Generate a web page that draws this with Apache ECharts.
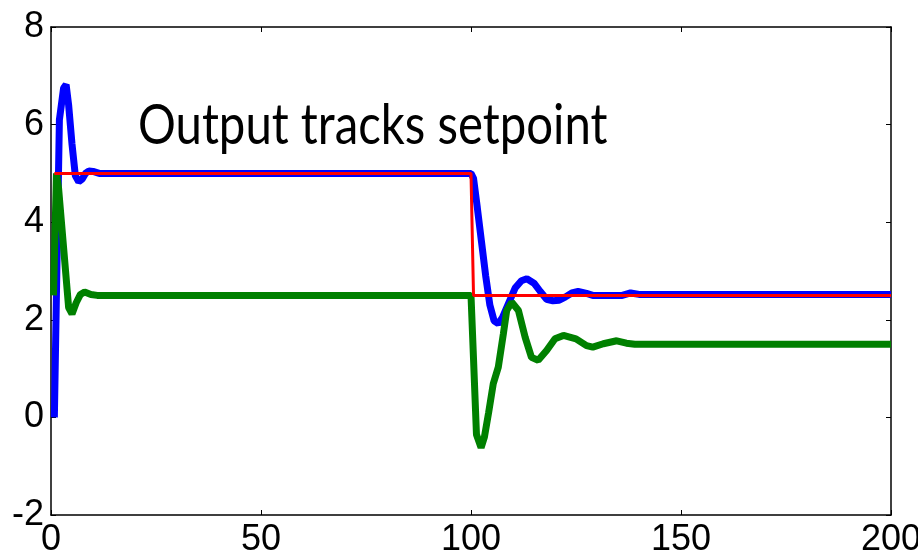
<!DOCTYPE html>
<html>
<head>
<meta charset="utf-8">
<script src="https://cdn.jsdelivr.net/npm/echarts@6/dist/echarts.min.js"></script>
<style>
  html, body { margin: 0; padding: 0; background: #fff; }
  #chart { width: 918px; height: 554px; }
</style>
</head>
<body>
<div id="chart"></div>
<script>
// output (blue)
const outT = [0.8, 2, 3, 3.6, 4.2, 5, 5.8, 6.6, 7.4, 8.2, 9, 10, 11.5, 100,
  100.6, 101.5, 102.5, 103.5, 104.5, 105.5, 106.5, 107.5, 108.5, 109.5, 110.5, 112, 113.3,
  115, 116.5, 118, 119.5, 121, 122.5, 124, 125.5, 127.5, 129, 136, 138, 140, 200];
const outY = [0, 6.1, 6.75, 6.82, 6.4, 5.6, 4.95, 4.83, 4.88, 5.0, 5.05, 5.04, 5.0, 5.0,
  4.9, 4.3, 3.6, 2.9, 2.3, 1.98, 1.92, 2.05, 2.25, 2.45, 2.65, 2.8, 2.84,
  2.75, 2.58, 2.42, 2.39, 2.4, 2.47, 2.55, 2.58, 2.54, 2.5, 2.5, 2.55, 2.52, 2.52];
// controller input (green)
const inT = [0.6, 1.3, 1.8, 4.2, 5, 6, 7, 8, 9.5, 11, 100,
  100.6, 101.3, 102.4, 103.2, 104.2, 105.3, 106.5, 107.7, 108.5, 109.7, 111.3, 112.9, 114.4,
  116, 118, 120, 122, 125, 127.5, 129, 131.5, 134.7, 137, 139, 200];
const inY = [2.5, 5.0, 4.7, 2.25, 2.12, 2.35, 2.52, 2.57, 2.52, 2.5, 2.5,
  1.2, -0.35, -0.62, -0.4, 0.1, 0.69, 1.03, 1.71, 2.19, 2.36, 2.19, 1.64, 1.23,
  1.17, 1.37, 1.61, 1.68, 1.61, 1.47, 1.44, 1.51, 1.57, 1.52, 1.5, 1.5];
// setpoint (red)
const spT = [0.8, 100, 100.6, 200];
const spY = [5, 5, 2.5, 2.5];

const xTicks = [0, 50, 100, 150, 200];
const yTicks = [-2, 0, 2, 4, 6, 8];

const pairs = (t, y) => t.map((v, i) => [v, y[i]]);

const chart = echarts.init(document.getElementById('chart'));

const tick = { show: true, inside: true, length: 5, lineStyle: { color: '#000', width: 1 } };
const axLine = { show: true, onZero: false, lineStyle: { color: '#000', width: 1.5 } };
const font = 'Liberation Sans, Arial, sans-serif';

chart.setOption({
  animation: false,
  backgroundColor: '#fff',
  // annotation, squeezed a bit to match the narrow original face
  graphic: [{
    type: 'text',
    x: 138, y: 98,
    scaleX: 0.845,
    style: { text: 'Output tracks setpoint', font: '56px Lato', fill: '#000' }
  }],
  grid: { left: 51, right: 27, top: 27, bottom: 39, show: false, outerBoundsMode: 'none', containLabel: false },
  xAxis: [{
    type: 'value',
    min: xTicks[0], max: xTicks[xTicks.length - 1], interval: 50,
    axisLine: axLine, axisTick: tick, splitLine: { show: false },
    axisLabel: { color: '#000', fontSize: 36, fontFamily: font, margin: 7 }
  }, {
    type: 'value', position: 'top',
    min: xTicks[0], max: xTicks[xTicks.length - 1], interval: 50,
    axisLine: axLine, axisTick: tick, splitLine: { show: false },
    axisLabel: { show: false }
  }],
  yAxis: [{
    type: 'value',
    min: yTicks[0], max: yTicks[yTicks.length - 1], interval: 2,
    axisLine: axLine, axisTick: tick, splitLine: { show: false },
    axisLabel: { color: '#000', fontSize: 36, fontFamily: font, margin: 7 }
  }, {
    type: 'value', position: 'right',
    min: yTicks[0], max: yTicks[yTicks.length - 1], interval: 2,
    axisLine: axLine, axisTick: tick, splitLine: { show: false },
    axisLabel: { show: false }
  }],
  series: [
    { type: 'line', data: pairs(outT, outY), showSymbol: false,
      lineStyle: { color: '#0000ff', width: 7 }, z: 2 },
    { type: 'line', data: pairs(inT, inY), showSymbol: false,
      lineStyle: { color: '#008000', width: 7 }, z: 3 },
    { type: 'line', data: pairs(spT, spY), showSymbol: false,
      lineStyle: { color: '#ff0000', width: 3 }, z: 4 }
  ]
});
</script>
</body>
</html>
